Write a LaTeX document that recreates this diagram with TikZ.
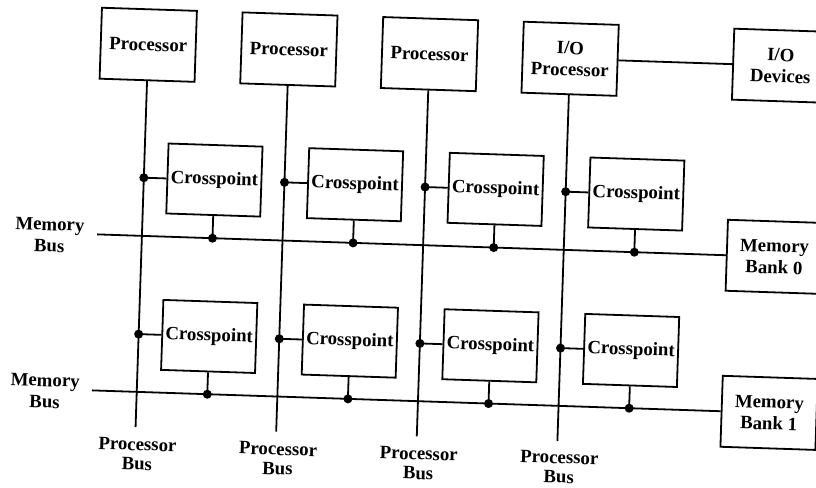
\documentclass[tikz,border=0pt]{standalone}
\usepackage{fontspec}
\setmainfont{Liberation Serif}
\begin{document}
\begin{tikzpicture}[x=1pt,y=-1pt,
  line width=1.8pt,
  txt/.style={font=\bfseries\fontsize{18.8}{21.5}\selectfont, align=center, inner sep=1pt},
  box/.style={txt, draw, line width=1.8pt, minimum width=95pt, minimum height=71pt},
  cpbox/.style={box, minimum width=94pt, minimum height=70pt},
  lbl/.style={txt},
  pblbl/.style={txt, font=\bfseries\fontsize{18.8}{19.5}\selectfont},
  dot/.style={circle, fill, draw=none, inner sep=0pt, minimum size=9pt}]
\path[use as bounding box] (0,0) rectangle (816,487);
\clip (0,0) rectangle (816,487);
\begin{scope}[rotate around={-1.9:(408,243.5)}, transform shape]
  % processors
  \node[box] (p1) at (141.8,53.5) {Processor};
  \node[box] (p2) at (282.5,53.5) {Processor};
  \node[box] (p3) at (423.2,53.5) {Processor};
  \node[box] (p4) at (563.9,53.5) {I/O\\Processor};
  \node[box] (iod) at (774.5,53.5) {I/O\\Devices};
  \node[box] (mb0) at (774.5,244.7) {Memory\\Bank 0};
  \node[box] (mb1) at (774.5,400.8) {Memory\\Bank 1};
  % crosspoints
  \node[cpbox] (x11) at (212.4,186.5) {Crosspoint};
  \node[cpbox] (x21) at (353.1,186.5) {Crosspoint};
  \node[cpbox] (x31) at (493.8,186.5) {Crosspoint};
  \node[cpbox] (x41) at (634.5,186.5) {Crosspoint};
  \node[cpbox] (x12) at (212.4,343) {Crosspoint};
  \node[cpbox] (x22) at (353.1,343) {Crosspoint};
  \node[cpbox] (x32) at (493.8,343) {Crosspoint};
  \node[cpbox] (x42) at (634.5,343) {Crosspoint};
  % bus ends
  \coordinate (b1) at (141.8,436);
  \coordinate (b2) at (282.5,436);
  \coordinate (b3) at (423.2,436);
  \coordinate (b4) at (563.9,436);
  \coordinate (l1) at (97,244.7);
  \coordinate (l2) at (97,400.8);
  % junction dots on processor buses
  \node[dot] (j11) at (141.8,186.5) {};
  \node[dot] (j21) at (282.5,186.5) {};
  \node[dot] (j31) at (423.2,186.5) {};
  \node[dot] (j41) at (563.9,186.5) {};
  \node[dot] (j12) at (141.8,343) {};
  \node[dot] (j22) at (282.5,343) {};
  \node[dot] (j32) at (423.2,343) {};
  \node[dot] (j42) at (563.9,343) {};
  % junction dots on memory buses
  \node[dot] (m11) at (212.4,244.7) {};
  \node[dot] (m21) at (353.1,244.7) {};
  \node[dot] (m31) at (493.8,244.7) {};
  \node[dot] (m41) at (634.5,244.7) {};
  \node[dot] (m12) at (212.4,400.8) {};
  \node[dot] (m22) at (353.1,400.8) {};
  \node[dot] (m32) at (493.8,400.8) {};
  \node[dot] (m42) at (634.5,400.8) {};
  % processor buses
  \draw (p1.south) -- (b1);
  \draw (p2.south) -- (b2);
  \draw (p3.south) -- (b3);
  \draw (p4.south) -- (b4);
  % memory buses
  \draw (l1) -- (mb0.west);
  \draw (l2) -- (mb1.west);
  % I/O link
  \draw (p4.east) -- (iod.west);
  % crosspoint stubs
  \foreach \c in {1,2,3,4}{
    \foreach \r in {1,2}{
      \draw (j\c\r.center) -- (x\c\r.west);
      \draw (x\c\r.south) -- (m\c\r.center);
    }
  }
  % labels
  \node[lbl] (mbl1) at (49.5,247) {Memory\\Bus};
  \node[lbl] (mbl2) at (50,403) {Memory\\Bus};
  \node[pblbl] (pb1) at (144.3,463) {Processor\\Bus};
  \node[pblbl] (pb2) at (285,463) {Processor\\Bus};
  \node[pblbl] (pb3) at (425.7,463) {Processor\\Bus};
  \node[pblbl] (pb4) at (566.4,462) {Processor\\Bus};
\end{scope}
\end{tikzpicture}
\end{document}
